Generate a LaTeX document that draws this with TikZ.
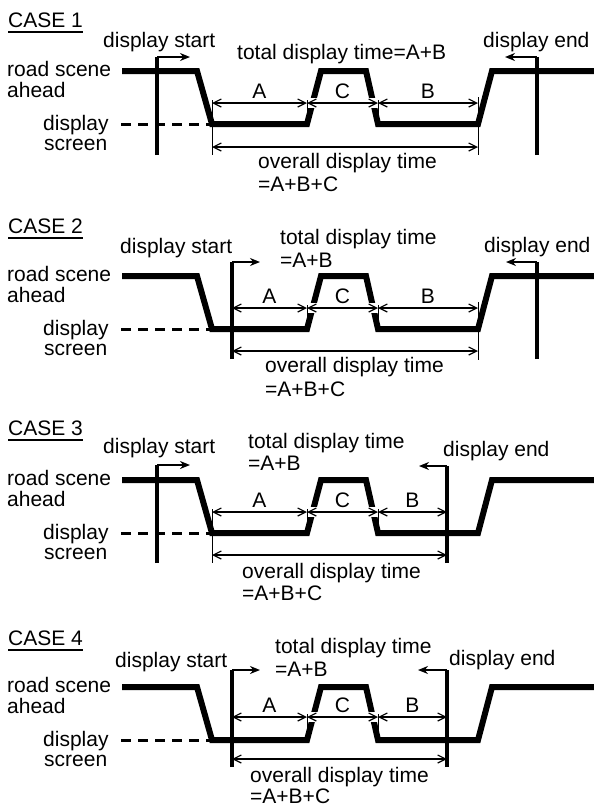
\documentclass[tikz,border=0pt]{standalone}
\usepackage{fontspec}
\setmainfont{Liberation Sans}
\usetikzlibrary{arrows.meta}

\begin{document}
\begin{tikzpicture}[x=1pt, y=-1pt,
    every node/.style={font=\fontsize{21}{22}\selectfont, inner sep=0pt, anchor=base west},
    wave/.style={line width=6pt},
    screenlevel/.style={line width=3pt, dash pattern=on 10pt off 7pt},
    marker/.style={line width=4pt},
    markarrow/.style={line width=2pt, -{Stealth[length=10pt,width=8pt]}},
    span/.style={line width=1.2pt, {Straight Barb[length=8pt,width=8pt]}-{Straight Barb[length=8pt,width=8pt]}},
    gapped/.style={preaction={draw=white, line width=10pt, -}},
    tick/.style={line width=0.8pt},
    caseline/.style={line width=2pt}]
  \useasboundingbox (0,0) rectangle (594,807);

  % CASE 1
  \begin{scope}[shift={(0,71)}]
    \node (case1) at (8,-44) {CASE 1};
    \draw[caseline] ([yshift=-5pt]case1.base west) -- ([yshift=-5pt]case1.base east);
    \node (road1) at (7,5) {road scene};
    \node (ahead1) at (7,26) {ahead};
    \node (disp1) at (43,59) {display};
    \node (scr1) at (44,79) {screen};
    \draw[wave] (122,0) -- (197,0) -- (212,53) -- (307,53) -- (321,0) -- (366,0)
      -- (378,53) -- (478,53) -- (492,0) -- (594,0);
    \draw[screenlevel] (121,53) -- (212,53);
    \coordinate (a1) at (212,32);
    \coordinate (c1) at (307,32);
    \coordinate (d1) at (378,32);
    \coordinate (b1) at (478,32);
    \draw[span, gapped] (c1) -- node[anchor=base, yshift=5pt] (lc1) {C} (d1);
    \draw[span] (a1) -- node[anchor=base, yshift=5pt] (la1) {A} (c1);
    \draw[span] (d1) -- node[anchor=base, yshift=5pt] (lb1) {B} (b1);
    \draw[tick] (212,29) -- (212,84);
    \draw[tick] (307,29) -- (307,53);
    \draw[tick] (378,29) -- (378,53);
    \draw[tick] (478,26) -- (478,84);
    \coordinate (o1) at (212,76);
    \coordinate (p1) at (478,76);
    \draw[span] (o1) -- (p1);
    % display start / end
    \coordinate (s1) at (157,-14);
    \coordinate (s1r) at (190,-14);
    \coordinate (e1) at (537,-14);
    \coordinate (e1l) at (505,-14);
    \draw[marker] (157,84) -- (s1);
    \draw[markarrow] (s1) -- (s1r);
    \draw[marker] (537,84) -- (e1);
    \draw[markarrow] (e1) -- (e1l);
    \node (start1) at (103,-24) {display start};
    \node (end1) at (483,-24) {display end};
    \node (total1) at (237,-12) {total display time=A+B};
    \node (over1) at (258,97) {overall display time};
    \node (sum1) at (258,120) {=A+B+C};
  \end{scope}

  % CASE 2
  \begin{scope}[shift={(0,276)}]
    \node (case2) at (8,-43) {CASE 2};
    \draw[caseline] ([yshift=-5pt]case2.base west) -- ([yshift=-5pt]case2.base east);
    \node (road2) at (7,5) {road scene};
    \node (ahead2) at (7,26) {ahead};
    \node (disp2) at (43,59) {display};
    \node (scr2) at (44,79) {screen};
    \draw[wave] (122,0) -- (197,0) -- (212,53) -- (307,53) -- (321,0) -- (366,0)
      -- (378,53) -- (478,53) -- (492,0) -- (594,0);
    \draw[screenlevel] (121,53) -- (212,53);
    \coordinate (a2) at (232,32);
    \coordinate (c2) at (307,32);
    \coordinate (d2) at (378,32);
    \coordinate (b2) at (478,32);
    \draw[span, gapped] (c2) -- node[anchor=base, yshift=5pt] (lc2) {C} (d2);
    \draw[span] (a2) -- node[anchor=base, yshift=5pt] (la2) {A} (c2);
    \draw[span] (d2) -- node[anchor=base, yshift=5pt] (lb2) {B} (b2);
    \draw[tick] (307,29) -- (307,53);
    \draw[tick] (378,29) -- (378,53);
    \draw[tick] (478,26) -- (478,84);
    \coordinate (o2) at (232,75);
    \coordinate (p2) at (478,75);
    \draw[span] (o2) -- (p2);
    % display start / end
    \coordinate (s2) at (232,-14);
    \coordinate (s2r) at (260,-14);
    \coordinate (e2) at (537,-14);
    \coordinate (e2l) at (506,-14);
    \draw[marker] (232,83) -- (s2);
    \draw[markarrow] (s2) -- (s2r);
    \draw[marker] (537,83) -- (e2);
    \draw[markarrow] (e2) -- (e2l);
    \node (start2) at (120,-23) {display start};
    \node (end2) at (484,-24) {display end};
    \node (total2) at (280,-32) {total display time};
    \node (totsum2) at (280,-9) {=A+B};
    \node (over2) at (265,96) {overall display time};
    \node (sum2) at (265,120) {=A+B+C};
  \end{scope}

  % CASE 3
  \begin{scope}[shift={(0,480)}]
    \node (case3) at (8,-45) {CASE 3};
    \draw[caseline] ([yshift=-5pt]case3.base west) -- ([yshift=-5pt]case3.base east);
    \node (road3) at (7,5) {road scene};
    \node (ahead3) at (7,26) {ahead};
    \node (disp3) at (43,59) {display};
    \node (scr3) at (44,79) {screen};
    \draw[wave] (122,0) -- (197,0) -- (212,53) -- (307,53) -- (321,0) -- (366,0)
      -- (378,53) -- (478,53) -- (492,0) -- (594,0);
    \draw[screenlevel] (121,53) -- (212,53);
    \coordinate (a3) at (212,32);
    \coordinate (c3) at (307,32);
    \coordinate (d3) at (378,32);
    \coordinate (b3) at (447,32);
    \draw[span, gapped] (c3) -- node[anchor=base, yshift=5pt] (lc3) {C} (d3);
    \draw[span] (a3) -- node[anchor=base, yshift=5pt] (la3) {A} (c3);
    \draw[span] (d3) -- node[anchor=base, yshift=5pt] (lb3) {B} (b3);
    \draw[tick] (212,29) -- (212,83);
    \draw[tick] (307,29) -- (307,53);
    \draw[tick] (378,29) -- (378,53);
    \coordinate (o3) at (212,75);
    \coordinate (p3) at (447,75);
    \draw[span] (o3) -- (p3);
    % display start / end
    \coordinate (s3) at (157,-15);
    \coordinate (s3r) at (190,-15);
    \coordinate (e3) at (447,-14);
    \coordinate (e3l) at (419,-14);
    \draw[marker] (157,83) -- (s3);
    \draw[markarrow] (s3) -- (s3r);
    \draw[marker] (447,83) -- (e3);
    \draw[markarrow] (e3) -- (e3l);
    \node (start3) at (103,-27) {display start};
    \node (end3) at (443,-24) {display end};
    \node (total3) at (248,-32) {total display time};
    \node (totsum3) at (248,-10) {=A+B};
    \node (over3) at (242,98) {overall display time};
    \node (sum3) at (242,120) {=A+B+C};
  \end{scope}

  % CASE 4
  \begin{scope}[shift={(0,687)}]
    \node (case4) at (8,-42) {CASE 4};
    \draw[caseline] ([yshift=-5pt]case4.base west) -- ([yshift=-5pt]case4.base east);
    \node (road4) at (7,5) {road scene};
    \node (ahead4) at (7,26) {ahead};
    \node (disp4) at (43,59) {display};
    \node (scr4) at (44,79) {screen};
    \draw[wave] (122,0) -- (197,0) -- (212,53) -- (307,53) -- (321,0) -- (366,0)
      -- (378,53) -- (478,53) -- (492,0) -- (594,0);
    \draw[screenlevel] (121,53) -- (212,53);
    \coordinate (a4) at (232,30);
    \coordinate (c4) at (307,30);
    \coordinate (d4) at (378,30);
    \coordinate (b4) at (447,30);
    \draw[span, gapped] (c4) -- node[anchor=base, yshift=5pt] (lc4) {C} (d4);
    \draw[span] (a4) -- node[anchor=base, yshift=5pt] (la4) {A} (c4);
    \draw[span] (d4) -- node[anchor=base, yshift=5pt] (lb4) {B} (b4);
    \draw[tick] (307,27) -- (307,53);
    \draw[tick] (378,27) -- (378,53);
    \coordinate (o4) at (232,72);
    \coordinate (p4) at (447,72);
    \draw[span] (o4) -- (p4);
    % display start / end
    \coordinate (s4) at (232,-17);
    \coordinate (s4r) at (260,-17);
    \coordinate (e4) at (447,-17);
    \coordinate (e4l) at (418,-17);
    \draw[marker] (232,80) -- (s4);
    \draw[markarrow] (s4) -- (s4r);
    \draw[marker] (447,80) -- (e4);
    \draw[markarrow] (e4) -- (e4l);
    \node (start4) at (115,-20) {display start};
    \node (end4) at (449,-22) {display end};
    \node (total4) at (275,-34) {total display time};
    \node (totsum4) at (275,-11) {=A+B};
    \node (over4) at (250,95) {overall display time};
    \node (sum4) at (250,116) {=A+B+C};
  \end{scope}
\end{tikzpicture}
\end{document}
